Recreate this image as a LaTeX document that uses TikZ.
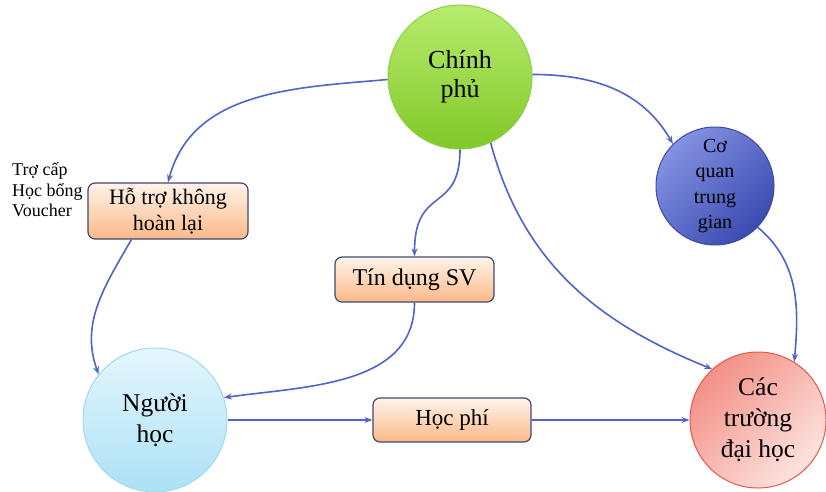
\documentclass[tikz,border=0pt]{standalone}
\usepackage{fontspec}
\setmainfont{Liberation Serif}
\usetikzlibrary{arrows.meta}

\definecolor{linkblue}{RGB}{78,100,200}
\definecolor{boxline}{RGB}{62,74,112}
\definecolor{boxtop}{RGB}{255,244,234}
\definecolor{boxbot}{RGB}{251,184,136}
\definecolor{govtop}{RGB}{184,236,110}
\definecolor{govbot}{RGB}{128,200,40}
\definecolor{govline}{RGB}{140,208,70}
\definecolor{agtop}{RGB}{132,146,226}
\definecolor{agbot}{RGB}{58,74,176}
\definecolor{agline}{RGB}{60,74,168}
\definecolor{lrtop}{RGB}{228,246,253}
\definecolor{lrbot}{RGB}{172,225,245}
\definecolor{lrline}{RGB}{160,218,240}
\definecolor{untop}{RGB}{243,144,134}
\definecolor{unbot}{RGB}{253,228,224}
\definecolor{unline}{RGB}{232,86,70}

\tikzset{
  flow/.style={draw=linkblue, line width=1.6pt, -{Stealth[length=8pt,width=6pt]}},
  flowbox/.style={draw=boxline, line width=1.2pt, rounded corners=7pt,
    top color=boxtop, bottom color=boxbot, align=center, inner sep=0pt},
  party/.style={circle, align=center, inner sep=0pt, line width=1pt}
}

\begin{document}
\begin{tikzpicture}[x=1pt,y=1pt]
\useasboundingbox (0,0) rectangle (826,491);

% circles
\node[party, minimum size=144pt, draw=govline, top color=govtop, bottom color=govbot,
  font=\fontsize{26}{29}\selectfont] (gov) at (460,414) {Chính\\phủ};
\node[party, minimum size=118pt, draw=agline, top color=agtop, bottom color=agbot,
  shading angle=45, font=\fontsize{20}{25.5}\selectfont] (agency) at (715,305)
  {Cơ\\quan\\trung\\gian};
\node[party, minimum size=144pt, draw=lrline, top color=lrtop, bottom color=lrbot,
  font=\fontsize{25.5}{31}\selectfont] (learner) at (155,71) {Người\\học};
\node[party, minimum size=136pt, draw=unline, top color=untop, bottom color=unbot,
  shading angle=45, font=\fontsize{25.5}{31}\selectfont] (univ) at (758,71)
  {Các\\trường\\đại học};

% boxes
\node[flowbox, minimum width=160pt, minimum height=56pt,
  font=\fontsize{22}{26}\selectfont] (grant) at (168,280) {Hỗ trợ không\\hoàn lại};
\node[flowbox, minimum width=159pt, minimum height=45pt,
  font=\fontsize{24}{28}\selectfont] (loan) at (414.5,211.5) {Tín dụng SV};
\node[flowbox, minimum width=158pt, minimum height=44pt,
  font=\fontsize{23}{27}\selectfont] (fee) at (452,71) {Học phí};

\node[anchor=west, align=left, inner sep=0pt, font=\fontsize{18}{20.5}\selectfont]
  (aidnote) at (12,301) {Trợ cấp\\Học bổng\\Voucher};

% links
\draw[flow] (gov.182) to[out=185, in=75] (grant.north);
\draw[flow] (gov.2) to[out=0, in=120] (agency.135);
\draw[flow] (gov.south) .. controls +(0,-65) and +(0,72) .. (loan.north);
\draw[flow] (gov.-65) to[out=-75, in=158] (univ.132);
\draw[flow] (agency.-44) to[out=-40, in=85] (univ.58);
\draw[flow] (grant.-142) to[out=-120, in=110] (learner.141);
\draw[flow] (loan.south) to[out=-90, in=8] (learner.18);
\draw[flow] (learner.east) -- (fee.west);
\draw[flow] (fee.east) -- (univ.west);
\end{tikzpicture}
\end{document}
